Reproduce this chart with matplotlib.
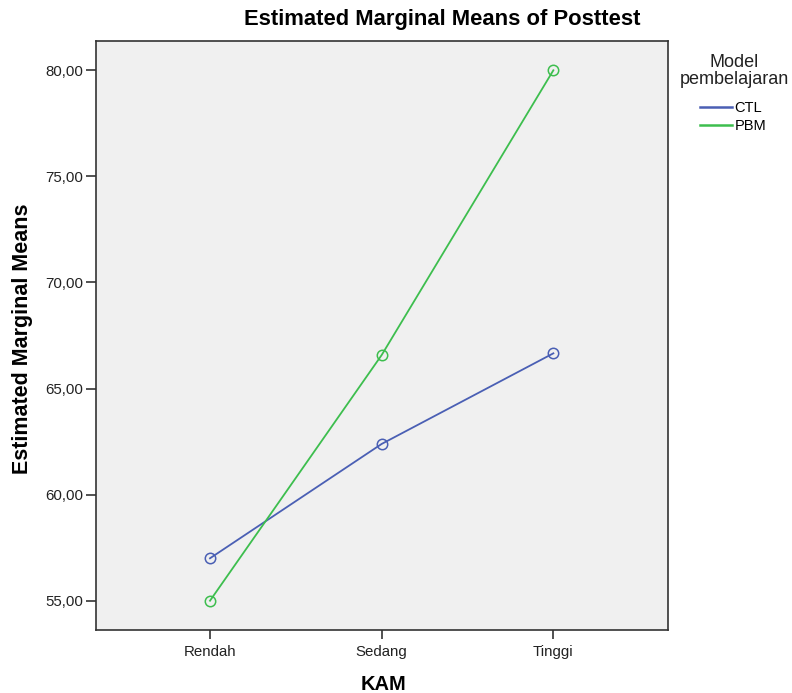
import matplotlib
matplotlib.use('Agg')
import matplotlib.pyplot as plt
from matplotlib.lines import Line2D
from matplotlib.ticker import FuncFormatter

plt.rcParams['font.family'] = ['Liberation Sans', 'DejaVu Sans']

# --- data ---
kam_levels = ['Rendah', 'Sedang', 'Tinggi']
ctl_means = [57.00, 62.39, 66.66]
pbm_means = [55.00, 66.58, 80.00]
series_names = ['CTL', 'PBM']
y_ticks = [55, 60, 65, 70, 75, 80]

COL_CTL = '#4A5FB4'
COL_PBM = '#3DBE4E'
BG = '#F0F0F0'

fig = plt.figure(figsize=(7.92, 6.93), dpi=100, facecolor='white')
ax = fig.add_axes([96 / 792, 1 - 630 / 693, (667.7 - 96) / 792, (630 - 41) / 693])
ax.set_facecolor(BG)

x = list(range(1, len(kam_levels) + 1))
for vals, col in [(ctl_means, COL_CTL), (pbm_means, COL_PBM)]:
    ax.plot(x, vals, color=col, lw=1.3, marker='o', ms=7.5, mfc='none',
            mec=col, mew=1.1, zorder=3)

ax.set_xlim(0.336, 3.666)
ax.set_ylim(53.62, 81.38)
ax.set_xticks(x)
ax.set_xticklabels(kam_levels)
ax.set_yticks(y_ticks)
ax.yaxis.set_major_formatter(FuncFormatter(lambda v, p: f'{v:.2f}'.replace('.', ',')))

for s in ax.spines.values():
    s.set_color('#333333')
    s.set_linewidth(1.2)
ax.tick_params(axis='both', direction='out', length=7, width=1.2, color='#333333',
               labelsize=10.8, labelcolor='#222222', pad=2)
ax.tick_params(axis='x', length=6.5, pad=4)

fig.text(442 / 792, 1 - 20 / 693, 'Estimated Marginal Means of Posttest',
         ha='center', va='center', fontsize=15.8, fontweight='bold')
fig.text(23 / 792, 1 - 339 / 693, 'Estimated Marginal Means', rotation=90,
         ha='center', va='center', fontsize=15.5, fontweight='bold')
fig.text(383 / 792, 1 - 684 / 693, 'KAM', ha='center', va='center',
         fontsize=14.5, fontweight='bold')

# legend
fig.text(734 / 792, 1 - 71 / 693, 'Model\npembelajaran', ha='center', va='center',
         fontsize=13, linespacing=0.95, color='#222222')
handles = [Line2D([0], [0], color=COL_CTL, lw=1.8), Line2D([0], [0], color=COL_PBM, lw=1.8)]
fig.legend(handles, series_names, loc='upper left', bbox_to_anchor=(700 / 792, 1 - 101 / 693),
           frameon=False, fontsize=10.5, handlelength=2.2, handletextpad=0.15,
           labelspacing=0.3, borderpad=0, borderaxespad=0)

fig.savefig('out.png', dpi=100, facecolor='white')
